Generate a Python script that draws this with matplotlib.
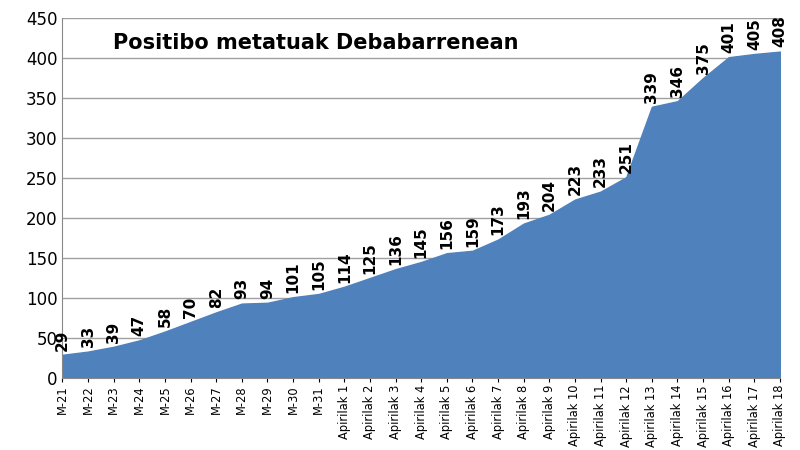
import matplotlib
matplotlib.use("Agg")
import matplotlib.pyplot as plt

labels = [f"M-{d}" for d in range(21, 32)] + [f"Apirilak {d}" for d in range(1, 19)]
values = [29,33,39,47,58,70,82,93,94,101,105,114,125,136,145,156,159,173,193,204,223,233,251,339,346,375,401,405,408]
title = "Positibo metatuak Debabarrenean"

fig = plt.figure(figsize=(8, 4.5), dpi=100)
ax = fig.add_axes([0.078, 0.16, 0.897, 0.80])
x = list(range(len(values)))
ax.fill_between(x, values, 0, color="#4F81BD", zorder=2)
ax.set_xlim(0, len(values) - 1)
ax.set_ylim(0, 450)
ax.set_yticks(range(0, 451, 50))
ax.grid(axis="y", color="#A0A0A0", linewidth=1, zorder=0)
ax.set_xticks(x)
ax.set_xticklabels(labels, rotation=90, fontsize=8.3)
ax.tick_params(axis="y", labelsize=12, length=0)
ax.tick_params(axis="x", length=3, pad=2)
for s in ["top", "right"]:
    ax.spines[s].set_visible(False)
ax.spines["left"].set_color("#888888")
ax.spines["bottom"].set_color("#888888")
for xi, v in zip(x, values):
    ax.annotate(str(v), (xi, v), xytext=(0, 3), textcoords="offset points",
                rotation=90, ha="center", va="bottom", fontsize=11, fontweight="bold", zorder=3)
ax.text(0.07, 0.93, title, transform=ax.transAxes, fontsize=15, fontweight="bold", va="center")
fig.savefig("out.png", dpi=100)
